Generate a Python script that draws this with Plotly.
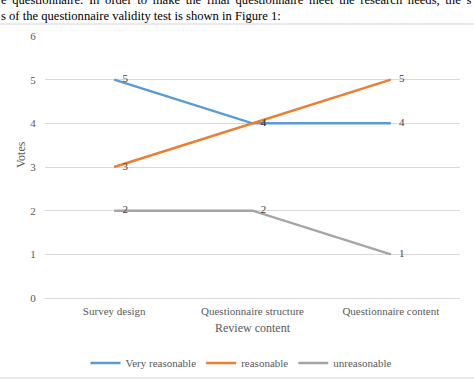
import plotly.graph_objects as go

categories = ["Survey design", "Questionnaire structure", "Questionnaire content"]
very_reasonable = [5, 4, 4]
reasonable = [3, 4, 5]
unreasonable = [2, 2, 1]
y_ticks = [0, 1, 2, 3, 4, 5, 6]

FONT = "Liberation Serif"
W, H = 474, 381
L, R, T, B = 45, 14, 36, 83
pw, ph = W - L - R, H - T - B

def px(x):
    return (x - L) / pw

def py(y):
    return (H - B - y) / ph

fig = go.Figure()
series = [
    ("Very reasonable", very_reasonable, "#5B9BD5"),
    ("reasonable", reasonable, "#ED7D31"),
    ("unreasonable", unreasonable, "#A5A5A5"),
]
pad = "\u2002\u00a0"
for name, vals, col in series:
    fig.add_trace(go.Scatter(
        x=categories, y=vals, name=name, mode="lines+text",
        line=dict(color=col, width=2.5),
        text=[pad + str(v) for v in vals], textposition="middle right",
        textfont=dict(family=FONT, size=11, color="#404040"),
        cliponaxis=False,
    ))

fig.update_layout(
    width=W, height=H,
    margin=dict(l=L, r=R, t=T, b=B, autoexpand=False),
    paper_bgcolor="white", plot_bgcolor="white",
    font=dict(family=FONT, color="#595959", size=11),
    showlegend=True,
    legend=dict(orientation="h", x=px(241), xanchor="center", y=py(363), yanchor="middle",
                font=dict(family=FONT, size=11, color="#595959"), itemwidth=30,
                tracegroupgap=0, bgcolor="rgba(0,0,0,0)"),
    xaxis=dict(type="category", range=[-0.5, 2.5], showgrid=False, showline=False,
               zeroline=False, ticks="outside", ticklen=3, tickcolor="rgba(0,0,0,0)",
               tickfont=dict(family=FONT, size=11, color="#595959")),
    yaxis=dict(range=[0, 6], tickvals=y_ticks, showgrid=True, gridcolor="#D9D9D9",
               gridwidth=1, zeroline=True, zerolinecolor="#D9D9D9", zerolinewidth=1,
               showline=False, ticks="outside", ticklen=6, tickcolor="rgba(0,0,0,0)",
               tickfont=dict(family=FONT, size=11, color="#595959")),
)

ts = "\u2009"
line1 = (" " + ts).join("e questionnaire. In order to make the final questionnaire meet the research needs, the s".split(" "))

annotations = [
    dict(text="Review content", x=px(253), y=py(328), xref="paper", yref="paper",
         showarrow=False, font=dict(family=FONT, size=12, color="#595959"),
         xanchor="center", yanchor="middle"),
    dict(text="Votes", x=px(21), y=py(155), xref="paper", yref="paper", textangle=-90,
         showarrow=False, font=dict(family=FONT, size=12, color="#595959"),
         xanchor="center", yanchor="middle"),
    dict(text=line1,
         x=px(-1), y=py(0), xref="paper", yref="paper", showarrow=False,
         font=dict(family=FONT, size=12.6, color="black"), xanchor="left", yanchor="middle"),
    dict(text="s of the questionnaire validity test is shown in Figure 1:",
         x=px(-1), y=py(16), xref="paper", yref="paper", showarrow=False,
         font=dict(family=FONT, size=12.6, color="black"), xanchor="left", yanchor="middle"),
]
fig.update_layout(annotations=annotations)

fig.add_shape(type="line", xref="paper", yref="paper", x0=px(0), x1=px(W), y0=py(24), y1=py(24),
              line=dict(color="#E3E3E3", width=1.5))
fig.add_shape(type="line", xref="paper", yref="paper", x0=px(0), x1=px(W), y0=py(378), y1=py(378),
              line=dict(color="#E3E3E3", width=1.5))

fig.write_html("out.html",
               config={"displayModeBar": False},
               post_script="document.body.style.margin='0';document.body.style.overflow='hidden';")
